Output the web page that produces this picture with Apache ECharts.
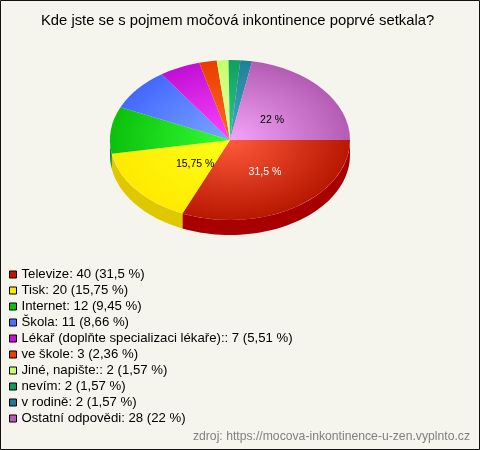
<!DOCTYPE html>
<html><head><meta charset="utf-8">
<style>html,body{margin:0;padding:0;background:#f5f5ed}#c{width:480px;height:450px}</style>
<script src="https://cdn.jsdelivr.net/npm/echarts@6/dist/echarts.min.js"></script>
</head><body><div id="c"></div>
<script>
const titleText = 'Kde jste se s pojmem močová inkontinence poprvé setkala?';
const sourceText = 'zdroj: https://mocova-inkontinence-u-zen.vyplnto.cz';
const names = ['Televize','Tisk','Internet','Škola','Lékař (doplňte specializaci lékaře):','ve škole','Jiné, napište:','nevím','v rodině','Ostatní odpovědi'];
const values = [40,20,12,11,7,3,2,2,2,28];
const percents = ['31,5','15,75','9,45','8,66','5,51','2,36','1,57','1,57','1,57','22'];
const sliceLabels = ['31,5 %','15,75 %','','','','','','','','22 %'];
const labelColors = ['#fff','#000','#000','#000','#000','#000','#000','#000','#000','#000'];
const labelFx = [0.53,0.37,0,0,0,0,0,0,0,0.455];
const labelFy = [0.48,0.48,0,0,0,0,0,0,0,0.39];
const innerColors = ['#ff5a3c','#ffff18','#33ff33','#7aa8ff','#ff44ff','#ff6a22','#e4ff9c','#28cc88','#48a8c8','#f4a4f8'];
const outerColors = ['#b81800','#ffea00','#0cc00c','#4468ff','#bf10d4','#e83e00','#c4ff6c','#10a060','#1e8098','#b45cb4'];
const wallColors = ['#a80000','#e0c800','#0a8a0a','#3050b0','#800090','#a02800','#90b050','#0a7040','#145868','#804080'];
const legendColors = ['#c01800','#ffe800','#10c010','#4a70ff','#c810d8','#e84000','#c8ff70','#109860','#1e7898','#b85cb8'];

const total = values.reduce((a, b) => a + b, 0);
const cx = 230, cy = 140, rx = 120, ry = 80, depth = 15;
let running = 0;
const series = names.map((name, i) => {
  const before = running;
  running += values[i];
  return {
    type: 'custom', name, coordinateSystem: 'none', silent: true,
    itemStyle: {color: legendColors[i]},
    data: [[values[i], before]],
    renderItem(params, api) {
      const a0 = api.value(1) / total * 2 * Math.PI;
      const a1 = (api.value(1) + api.value(0)) / total * 2 * Math.PI;
      const children = [];
      const lo = a0, hi = Math.min(a1, Math.PI);
      if (lo < hi) {
        const front = [], back = [];
        const steps = 48;
        for (let s = 0; s <= steps; s++) {
          const t = lo + (hi - lo) * s / steps;
          const x = cx + rx * Math.cos(t), y = cy + ry * Math.sin(t);
          front.push([x, y]);
          back.unshift([x, y + depth]);
        }
        children.push({type: 'polygon', z2: 1, shape: {points: front.concat(back)}, style: {fill: wallColors[i]}});
      }
      children.push({
        type: 'sector', z2: 2, x: cx, y: cy, scaleY: ry / rx,
        shape: {cx: 0, cy: 0, r0: 0, r: rx, startAngle: a0, endAngle: a1, clockwise: true},
        style: {fill: new echarts.graphic.RadialGradient(0, 0, rx, [
          {offset: 0, color: innerColors[i]}, {offset: 1, color: outerColors[i]}], true)}
      });
      if (sliceLabels[i]) {
        const m = (a0 + a1) / 2;
        children.push({type: 'text', z2: 10,
          x: cx + rx * labelFx[i] * Math.cos(m), y: cy + ry * labelFy[i] * Math.sin(m),
          style: {text: sliceLabels[i], fill: labelColors[i], font: '10.5px "Liberation Sans", Arial, sans-serif', align: 'center', verticalAlign: 'middle'}});
      }
      return {type: 'group', children};
    }
  };
});

const chart = echarts.init(document.getElementById('c'));
chart.setOption({
  animation: false,
  backgroundColor: '#f5f5ed',
  title: [
    {text: titleText, left: 41, top: 13, padding: 0, textStyle: {fontFamily: '"Liberation Sans", Arial, sans-serif', fontSize: 14.8, fontWeight: 'normal', color: '#000'}},
    {text: sourceText, right: 10, top: 431, padding: 0, textStyle: {fontFamily: '"Liberation Sans", Arial, sans-serif', fontSize: 12.2, fontWeight: 'normal', color: '#808080'}}
  ],
  legend: {
    orient: 'vertical', left: 9, top: 268, padding: 0, itemGap: 3, itemWidth: 7, itemHeight: 7,
    selectedMode: false, icon: 'rect',
    data: names.map((name, i) => ({name, icon: 'rect', itemStyle: {color: legendColors[i], borderColor: '#000', borderWidth: 1}})),
    formatter: n => { const i = names.indexOf(n); return `${n}: ${values[i]} (${percents[i]} %)`; },
    textStyle: {fontFamily: '"Liberation Sans", Arial, sans-serif', fontSize: 13.2, color: '#000', lineHeight: 12, height: 12}
  },
  graphic: [{type: 'rect', silent: true, z: -1, shape: {x: 0.5, y: 0.5, width: 479, height: 449}, style: {fill: 'none', stroke: '#111', lineWidth: 1}}],
  series
});
</script></body></html>
